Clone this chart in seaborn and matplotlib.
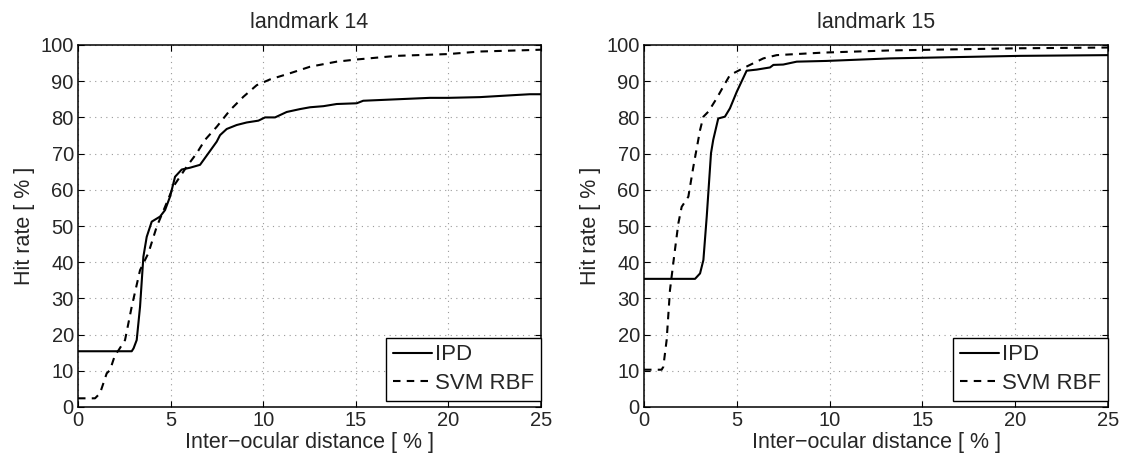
import numpy as np
import pandas as pd
import seaborn as sns
import matplotlib
matplotlib.use("Agg")
import matplotlib.pyplot as plt

# Cumulative hit rate vs. normalised error, per landmark and detector
lm14_ipd_x = [0, 2.9, 3.0, 3.17, 3.35, 3.53, 3.71, 3.98, 4.43, 4.7, 4.97, 5.24, 5.6,
              6.05, 6.59, 7.04, 7.49, 7.67, 8.03, 8.57, 9.11, 9.74, 10.1, 10.64, 11.27,
              11.99, 12.53, 13.25, 13.97, 15.05, 15.4, 17.2, 19.0, 20.0, 21.7, 23.7, 24.4, 25]
lm14_ipd_y = [15.4, 15.4, 16.2, 18.5, 27.7, 41.5, 47.0, 51.2, 52.6, 54.4, 58.1, 63.6, 65.6,
              66.1, 66.9, 70.1, 73.3, 75.1, 76.8, 77.9, 78.6, 79.1, 80.0, 80.0, 81.5,
              82.3, 82.8, 83.1, 83.7, 83.9, 84.6, 85.0, 85.4, 85.4, 85.6, 86.2, 86.4, 86.4]

lm14_svm_x = [0, 0.92, 1.19, 1.55, 1.73, 2.0, 2.18, 2.54, 2.9, 3.35, 3.8, 4.25, 4.7, 5.15,
              5.87, 6.41, 6.86, 7.49, 8.21, 8.93, 9.65, 10.37, 11.45, 12.53, 13.97, 15.05,
              17.2, 20.0, 21.7, 24.4, 25]
lm14_svm_y = [2.4, 2.4, 3.8, 9.3, 10.2, 14.4, 15.6, 18.5, 27.7, 37.8, 42.5, 49.8, 55.3, 60.9,
              66.4, 70.1, 73.8, 77.4, 82.0, 85.7, 88.9, 90.5, 92.2, 94.0, 95.4, 96.0,
              97.0, 97.5, 98.2, 98.6, 98.7]

lm15_ipd_x = [0, 2.75, 3.02, 3.2, 3.38, 3.61, 3.73, 4.0, 4.36, 4.63, 5.0, 5.53, 6.07,
              6.79, 6.97, 7.5, 8.23, 9.84, 13.25, 20.26, 25]
lm15_ipd_y = [35.4, 35.4, 36.9, 40.6, 52.6, 70.1, 73.8, 79.7, 80.2, 82.5, 87.1, 92.9, 93.2,
              93.8, 94.5, 94.6, 95.4, 95.6, 96.3, 97.0, 97.2]

lm15_svm_x = [0, 0.95, 1.04, 1.22, 1.4, 1.62, 1.85, 2.03, 2.39, 2.66, 3.02, 3.2, 3.47, 3.92,
              4.27, 4.63, 5.35, 6.43, 7.15, 9.66, 13.25, 20.26, 25]
lm15_svm_y = [10.3, 10.3, 11.1, 18.5, 32.3, 41.5, 50.7, 55.3, 58.1, 66.4, 76.5, 80.2, 81.6, 85.3,
              88.5, 91.7, 93.6, 96.3, 97.2, 97.9, 98.5, 99.1, 99.3]

methods = ["IPD", "SVM RBF"]
panel_titles = ["landmark 14", "landmark 15"]
x_ticks = [0, 5, 10, 15, 20, 25]
y_ticks = list(range(0, 101, 10))


def frame(xs, ys):
    return pd.DataFrame({"x": xs, "y": ys})


panels = [
    {"title": panel_titles[0],
     "IPD": frame(lm14_ipd_x, lm14_ipd_y),
     "SVM RBF": frame(lm14_svm_x, lm14_svm_y)},
    {"title": panel_titles[1],
     "IPD": frame(lm15_ipd_x, lm15_ipd_y),
     "SVM RBF": frame(lm15_svm_x, lm15_svm_y)},
]

sns.set_theme(style="white")
plt.rcParams["font.family"] = ["Liberation Sans", "DejaVu Sans"]
plt.rcParams["axes.unicode_minus"] = True

fig = plt.figure(figsize=(11.26, 4.57), dpi=100)
axes = [fig.add_axes([78 / 1126, 50 / 457, 463 / 1126, 362 / 457]),
        fig.add_axes([644 / 1126, 50 / 457, 464 / 1126, 362 / 457])]

styles = {"IPD": dict(linestyle="-"),
          "SVM RBF": dict(linestyle=(0, (3.6, 3.0)))}

for ax, panel in zip(axes, panels):
    for m in methods:
        sns.lineplot(data=panel[m], x="x", y="y", ax=ax, color="black", lw=1.5,
                     sort=False, estimator=None, label=m, **styles[m])
    ax.set_xlim(0, 25)
    ax.set_ylim(0, 100)
    ax.set_xticks(x_ticks)
    ax.set_yticks(y_ticks)
    ax.grid(True, color="#9a9a9a", linestyle=(0, (1, 4)), linewidth=0.8)
    ax.tick_params(direction="in", length=4, width=0.8, top=True, right=True,
                   bottom=True, left=True, labelsize=14.5, color="black", pad=3)
    for s in ax.spines.values():
        s.set_color("black")
        s.set_linewidth(1.1)
    ax.set_title(panel["title"], fontsize=15.5, pad=12)
    ax.set_xlabel("Inter\u2212ocular distance [ % ]", fontsize=15.5, labelpad=1)
    ax.set_ylabel("Hit rate [ % ]", fontsize=15.5, labelpad=4)
    leg = ax.legend(loc="lower right", bbox_to_anchor=(1.0, 0.017), fontsize=16,
                    frameon=True, fancybox=False, edgecolor="black", framealpha=1,
                    borderaxespad=0.0, handlelength=1.75, handletextpad=0.15,
                    borderpad=0.3, labelspacing=0.35)
    leg.get_frame().set_linewidth(1.0)

fig.savefig("out.png", dpi=100)
